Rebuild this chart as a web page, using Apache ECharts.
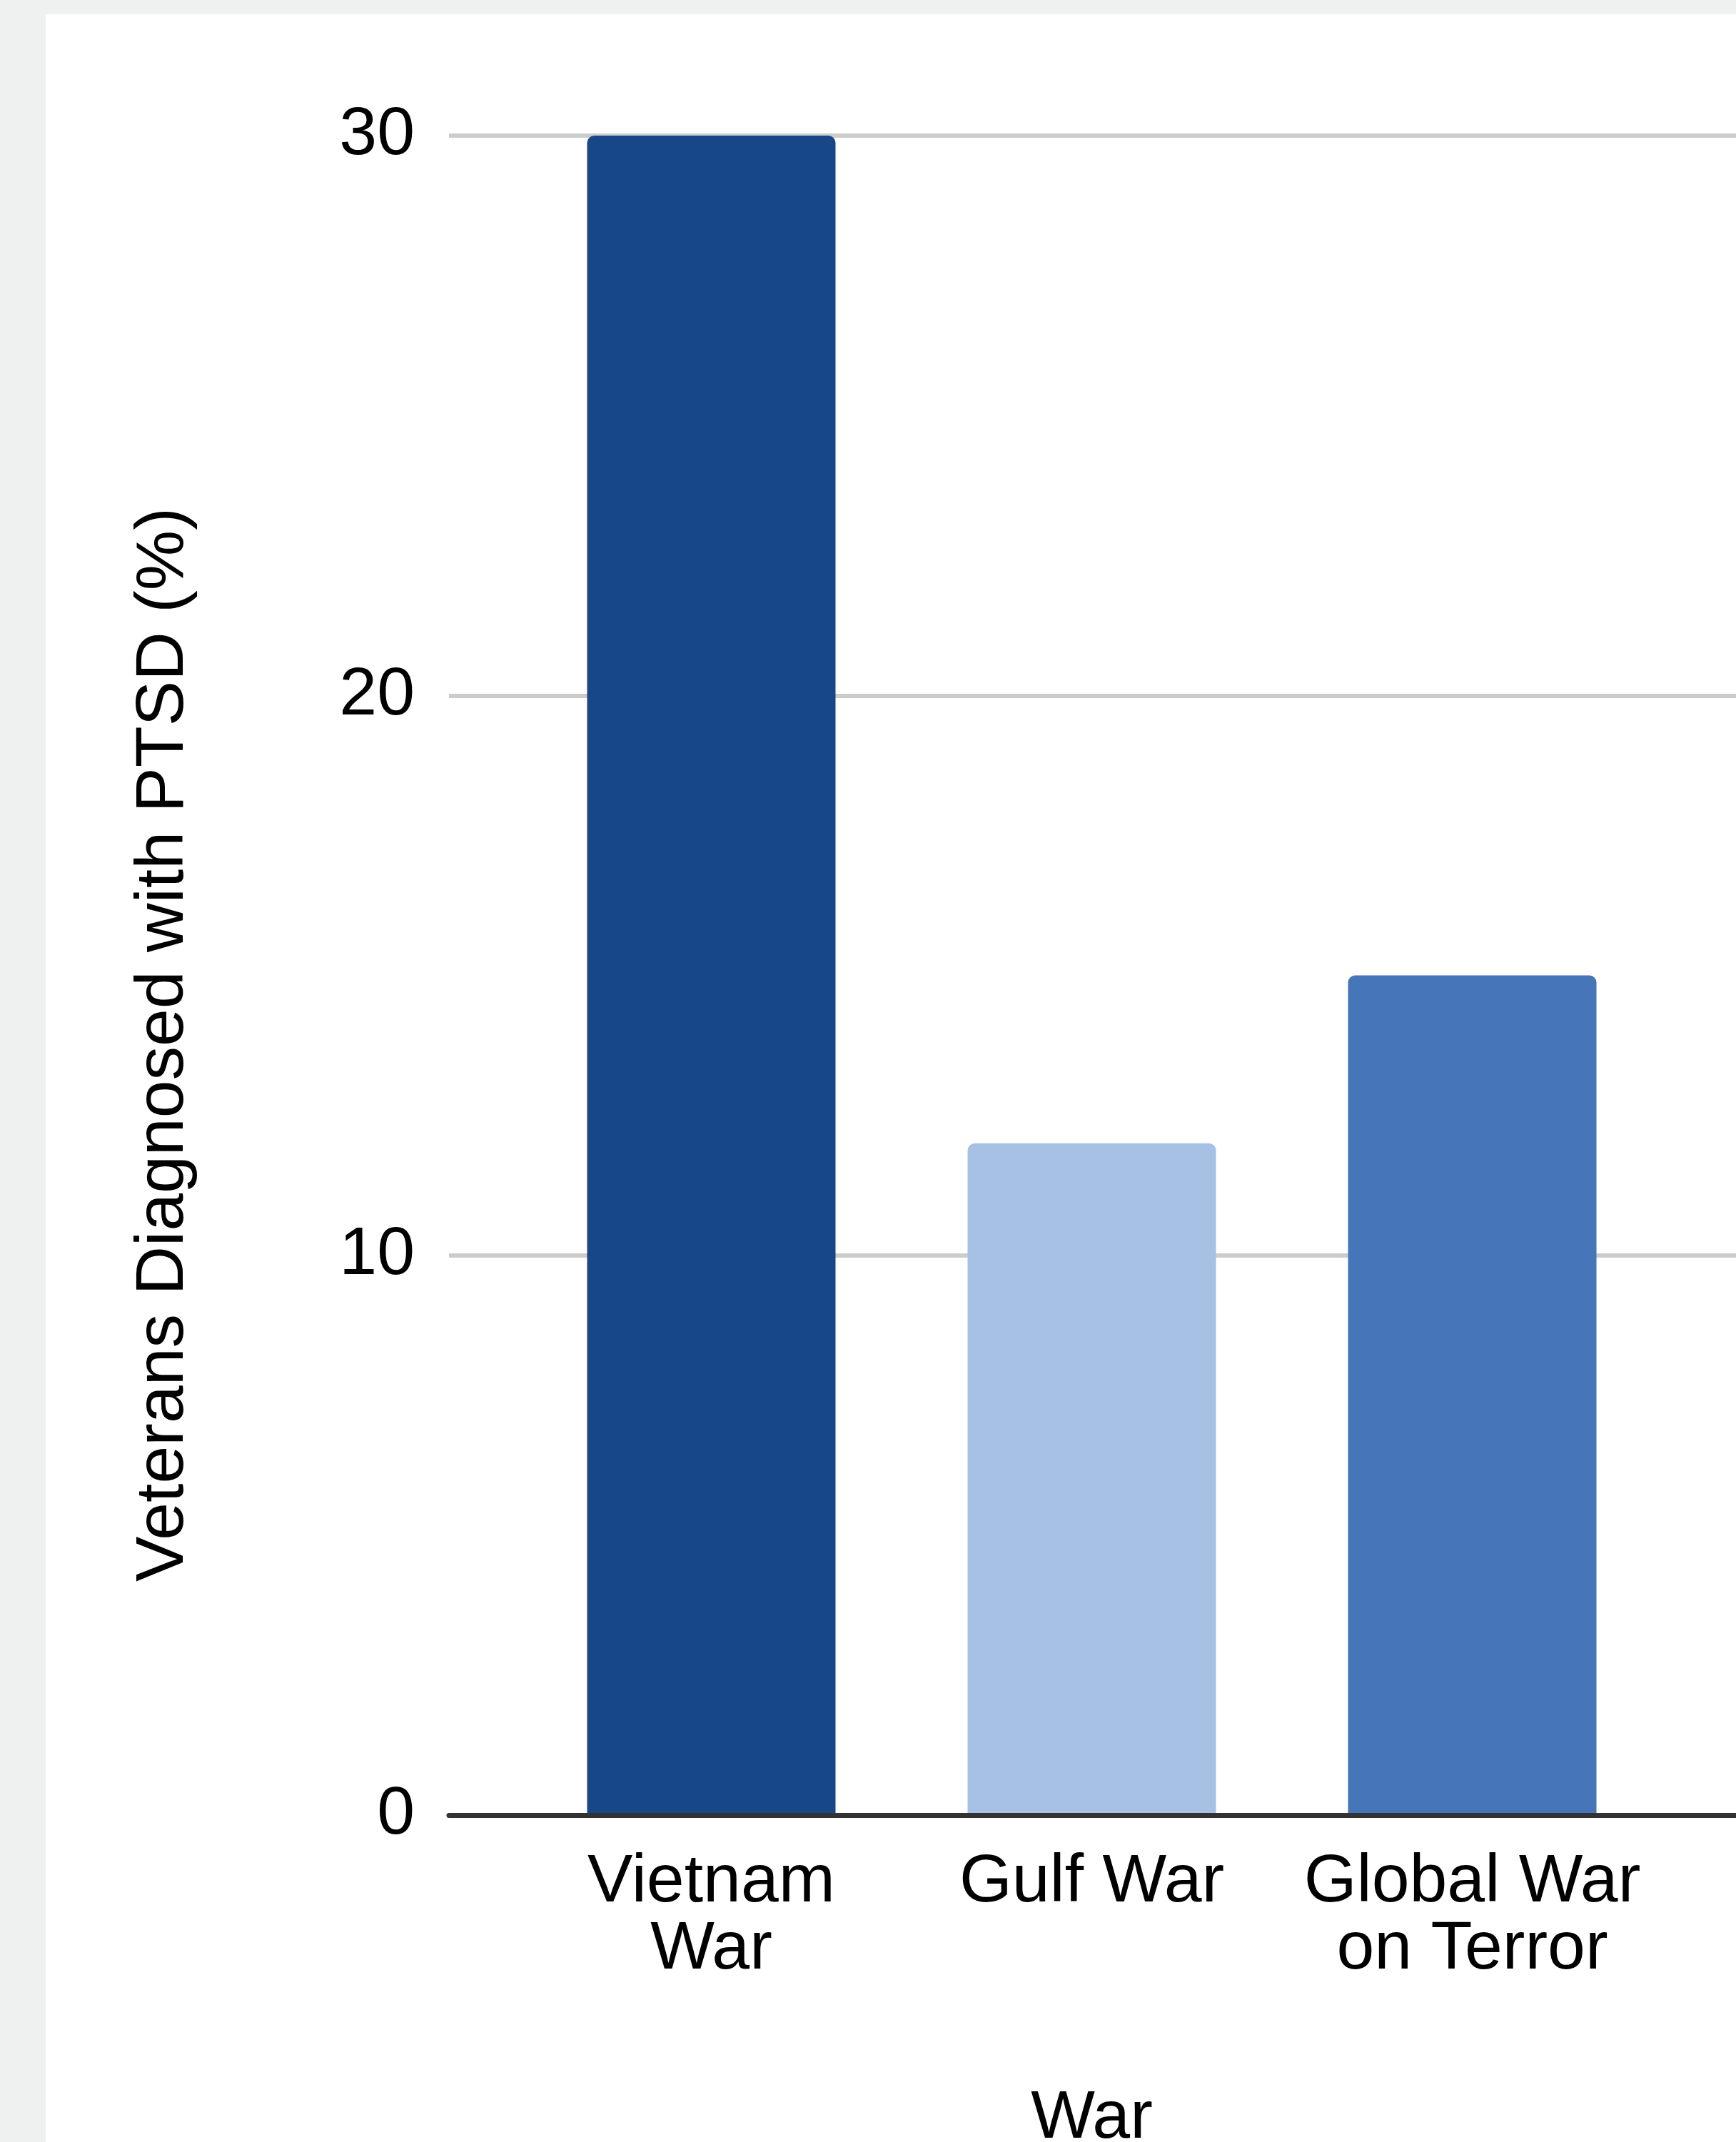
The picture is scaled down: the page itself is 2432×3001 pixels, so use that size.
<!DOCTYPE html>
<html>
<head>
<meta charset="utf-8">
<title>Veterans Diagnosed with PTSD</title>
<script src="https://cdn.jsdelivr.net/npm/echarts@6/dist/echarts.min.js"></script>
<style>
  html, body { margin: 0; padding: 0; background: #eff1f0; }
  #chart {
    position: absolute; left: 64px; top: 20px;
    width: 2368px; height: 2981px; background: #fff;
  }
</style>
</head>
<body>
<div id="chart"></div>
<script>
// --- data ---
const wars   = ['Vietnam\nWar', 'Gulf War', 'Global War\non Terror']
const ptsd   = [30, 12, 15]
const colors = ['#184787', '#a7c1e5', '#4775b9']
const yTicks = { min: 0, max: 30, interval: 10 }

const FONT = '"Liberation Sans", Arial, Helvetica, sans-serif'

const chart = echarts.init(document.getElementById('chart'))
chart.setOption({
  animation: false,
  textStyle: { fontFamily: FONT },
  // grid 0: gridlines + baseline (wide), grid 1: bars + categories
  grid: [
    { left: 565, right: 0, top: 170, bottom: 458, containLabel: false, outerBoundsMode: 'none' },
    { left: 666, right: 103, top: 170, bottom: 458, containLabel: false, outerBoundsMode: 'none' }
  ],
  xAxis: [
    {
      gridIndex: 0, type: 'value', min: 0, max: 1, z: 10,
      axisLine: { show: true, lineStyle: { color: '#333', width: 7 } },
      axisTick: { show: false }, axisLabel: { show: false },
      splitLine: { show: false }
    },
    {
      gridIndex: 1, type: 'category', data: wars,
      axisLine: { show: false }, axisTick: { show: false },
      axisLabel: {
        interval: 0, margin: 48, color: '#000',
        fontSize: 95, lineHeight: 94, fontFamily: FONT
      },
      name: 'War', nameLocation: 'middle', nameGap: 378,
      nameTextStyle: { color: '#000', fontSize: 95, fontFamily: FONT }
    }
  ],
  yAxis: [
    {
      gridIndex: 0, type: 'value', ...yTicks,
      axisLine: { show: false }, axisTick: { show: false },
      axisLabel: { color: '#000', fontSize: 95, margin: 48, fontFamily: FONT },
      splitLine: { lineStyle: { color: '#cccccc', width: 6 } },
      name: 'Veterans Diagnosed with PTSD (%)',
      nameLocation: 'middle', nameGap: 352,
      nameTextStyle: {
        color: '#000', fontSize: 95, fontFamily: FONT,
        padding: [0, 194, 0, 0]
      }
    },
    {
      gridIndex: 1, type: 'value', ...yTicks, show: false,
      splitLine: { show: false }
    }
  ],
  series: [{
    type: 'bar',
    xAxisIndex: 1, yAxisIndex: 1,
    barWidth: 348,
    data: ptsd.map((v, i) => ({
      value: v,
      itemStyle: { color: colors[i], borderRadius: [10, 10, 0, 0] }
    }))
  }]
})
</script>
</body>
</html>
